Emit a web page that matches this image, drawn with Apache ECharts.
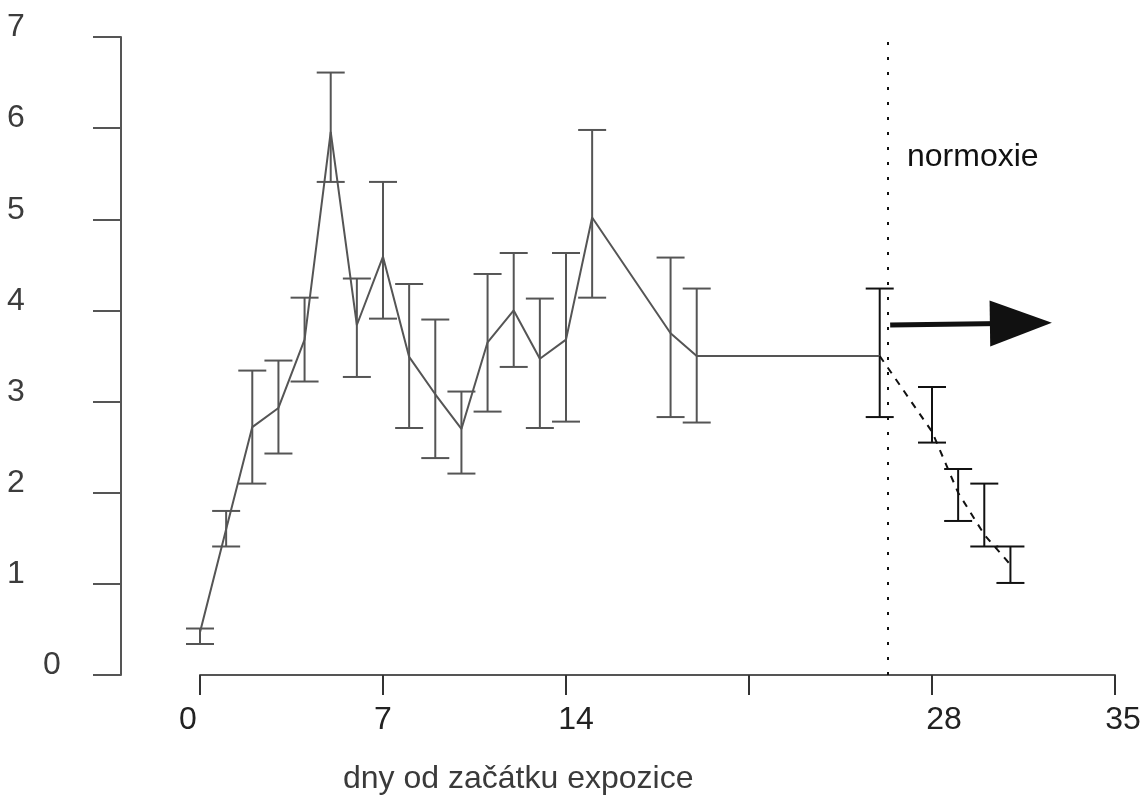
<!DOCTYPE html>
<html>
<head>
<meta charset="utf-8">
<script src="https://cdn.jsdelivr.net/npm/echarts@6/dist/echarts.min.js"></script>
<style>
  html, body { margin: 0; padding: 0; background: #ffffff; }
  #chart { width: 1147px; height: 799px; }
</style>
</head>
<body>
<div id="chart"></div>
<script>
// ---- data ----
const hypoxiaDays  = [0, 1, 2, 3, 4, 5, 6, 7, 8, 9, 10, 11, 12, 13, 14, 15, 18, 19, 26];
const hypoxiaMean  = [0.47, 1.60, 2.72, 2.93, 3.68, 5.96, 3.84, 4.59, 3.49, 3.08, 2.70, 3.65, 4.00, 3.47, 3.68, 5.02, 3.75, 3.50, 3.50];
const hypoxiaLow   = [0.34, 1.41, 2.10, 2.43, 3.22, 5.41, 3.27, 3.91, 2.71, 2.38, 2.21, 2.89, 3.38, 2.71, 2.78, 4.14, 2.83, 2.77, 2.83];
const hypoxiaHigh  = [0.51, 1.80, 3.34, 3.45, 4.14, 6.61, 4.35, 5.41, 4.29, 3.90, 3.11, 4.40, 4.63, 4.13, 4.63, 5.98, 4.58, 4.24, 4.24];

const normoxiaDays = [26, 28, 29, 30, 31];
const normoxiaMean = [3.50, 2.67, 2.00, 1.54, 1.21];
const normoxiaLow  = [null, 2.55, 1.69, 1.41, 1.01];
const normoxiaHigh = [null, 3.16, 2.26, 2.10, 1.41];

const xTicks = [0, 7, 14, 21, 28, 35];
const xTickLabels = ['0', '7', '14', '', '28', '35'];
const yTicks = [0, 1, 2, 3, 4, 5, 6, 7];

const normoxiaStartDay = 26.3;
const arrowFrom = [26.4, 3.84];
const arrowTo = [31.4, 3.86];
const axisTitle = 'dny od začátku expozice';
const phaseLabel = 'normoxie';

// ---- build ----
const FONT = '"Liberation Sans", Arial, Helvetica, sans-serif';
const GRAY = '#555555';
const BLACK = '#111111';

const mainLine = hypoxiaDays.map((d, i) => [d, hypoxiaMean[i]]);
const mainErr = hypoxiaDays.map((d, i) => [d, hypoxiaLow[i], hypoxiaHigh[i]]);
const recLine = normoxiaDays.map((d, i) => [d, normoxiaMean[i]]);
const recErr = normoxiaDays.map((d, i) => [d, normoxiaLow[i], normoxiaHigh[i]])
                           .filter(r => r[1] != null);

function errRenderer(colorFn) {
  return function (params, api) {
    const x = api.value(0), lo = api.value(1), hi = api.value(2);
    const a = api.coord([x, lo]);
    const b = api.coord([x, hi]);
    const hw = 14;
    const c = colorFn(x);
    const st = { stroke: c, lineWidth: 2, fill: null };
    return {
      type: 'group',
      children: [
        { type: 'line', shape: { x1: a[0], y1: a[1], x2: b[0], y2: b[1] }, style: st },
        { type: 'line', shape: { x1: a[0] - hw, y1: a[1], x2: a[0] + hw, y2: a[1] }, style: st },
        { type: 'line', shape: { x1: b[0] - hw, y1: b[1], x2: b[0] + hw, y2: b[1] }, style: st }
      ]
    };
  };
}

// x label shifts (as in the reference scan)
const xShift = { 0: -12, 7: 0, 14: 10, 21: 0, 28: 12, 35: 8 };
const xRich = {};
xTicks.forEach(t => {
  const s = xShift[t] || 0;
  xRich['t' + t] = {
    fontSize: 32, lineHeight: 32, fontFamily: FONT, color: '#222222',
    padding: s >= 0 ? [0, 0, 0, 2 * s] : [0, -2 * s, 0, 0]
  };
});

const chart = echarts.init(document.getElementById('chart'), null, { renderer: 'canvas' });

const option = {
  backgroundColor: '#ffffff',
  animation: false,
  grid: { left: 200, right: 32, top: 37, bottom: 124, containLabel: false, outerBoundsMode: 'none' },
  title: [
    { text: axisTitle, left: 343, top: 763, padding: 0,
      textStyle: { fontSize: 32, lineHeight: 32, fontWeight: 'normal', color: '#3a3a3a', fontFamily: FONT } },
    { text: phaseLabel, left: 907, top: 141, padding: 0,
      textStyle: { fontSize: 32, lineHeight: 32, fontWeight: 'normal', color: '#111111', fontFamily: FONT } }
  ],
  xAxis: {
    type: 'value', min: 0, max: 35, interval: 7,
    splitLine: { show: false },
    axisLine: { show: true, onZero: false, lineStyle: { color: GRAY, width: 2 } },
    axisTick: { show: true, length: 20, lineStyle: { color: '#333333', width: 2 } },
    axisLabel: {
      show: true, margin: 29, fontSize: 32, lineHeight: 32, fontFamily: FONT, color: '#222222',
      formatter: function (v) {
        const i = xTicks.indexOf(v);
        const txt = i >= 0 ? xTickLabels[i] : '';
        return txt === '' ? '' : '{t' + v + '|' + txt + '}';
      },
      rich: xRich
    }
  },
  yAxis: {
    type: 'value', min: 0, max: 7, interval: 1, offset: 79,
    splitLine: { show: false },
    axisLine: { show: true, onZero: false, lineStyle: { color: GRAY, width: 2 } },
    axisTick: { show: true, length: 28, lineStyle: { color: GRAY, width: 2 } },
    axisLabel: {
      show: true, margin: 114, align: 'left', verticalAlign: 'middle',
      padding: [0, 0, 19, 0],
      fontSize: 32, lineHeight: 32, fontFamily: FONT, color: '#3c3c3c',
      formatter: function (v) {
        return yTicks.indexOf(v) >= 0 ? (v === 0 ? '{z|0}' : '{n|' + v + '}') : '';
      },
      rich: {
        z: { padding: [0, 0, 0, 36], fontSize: 32, lineHeight: 32, fontFamily: FONT, color: '#3c3c3c' },
        n: { fontSize: 32, lineHeight: 32, fontFamily: FONT, color: '#3c3c3c' }
      }
    }
  },
  series: [
    {
      type: 'custom', name: 'errHyp', data: mainErr,
      encode: { x: 0, y: [1, 2] },
      renderItem: errRenderer(x => (x >= 26 ? BLACK : GRAY)),
      silent: true, z: 3
    },
    {
      type: 'custom', name: 'errNorm', data: recErr,
      encode: { x: 0, y: [1, 2] },
      renderItem: errRenderer(() => BLACK),
      silent: true, z: 3
    },
    {
      type: 'line', name: 'hypoxie', data: mainLine,
      symbol: 'none', smooth: false,
      lineStyle: { color: GRAY, width: 2 },
      silent: true, z: 4
    },
    {
      type: 'line', name: 'normoxie', data: recLine,
      symbol: 'none', smooth: false,
      lineStyle: { color: BLACK, width: 2, type: [7, 7] },
      silent: true, z: 4,
      markLine: {
        silent: true, symbol: ['none', 'none'], label: { show: false },
        lineStyle: { color: BLACK, width: 2, type: [3, 12] },
        data: [[{ coord: [normoxiaStartDay, 0] }, { coord: [normoxiaStartDay, 7] }]]
      }
    },
    {
      type: 'line', name: 'arrow', data: [],
      symbol: 'none', silent: true, z: 5,
      markLine: {
        silent: true, symbol: ['none', 'triangle'], symbolSize: [46, 62],
        label: { show: false },
        lineStyle: { color: BLACK, width: 5, type: 'solid' },
        itemStyle: { color: BLACK },
        data: [[{ coord: arrowFrom }, { coord: arrowTo }]]
      }
    }
  ]
};

chart.setOption(option);
</script>
</body>
</html>
